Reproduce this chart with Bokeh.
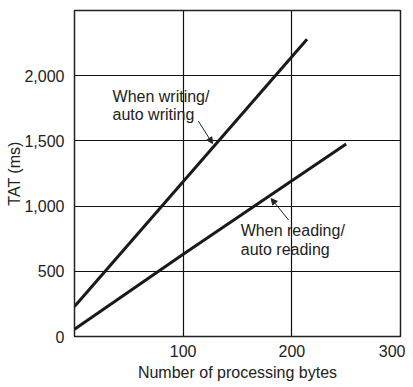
from bokeh.plotting import figure
from bokeh.models import FixedTicker, NumeralTickFormatter, Arrow, NormalHead, Range1d
from bokeh.core.properties import value
from bokeh.embed import file_html
from bokeh.resources import INLINE

# Data
write_bytes = [0, 214]
write_tat = [230, 2280]
read_bytes = [0, 100, 250]
read_tat = [55, 630, 1477]

x_ticks = [100, 200, 300]
y_ticks = [0, 500, 1000, 1500, 2000]

write_label = ["When writing/", "auto writing"]
write_label_x = [35, 35]
write_label_y = [1840, 1705]
read_label = ["When reading/", "auto reading"]
read_label_x = [153, 153]
read_label_y = [811, 667]

FONT = "Liberation Sans"
TXT = "#222222"
FS = "16px"

p = figure(output_backend="svg", toolbar_location=None,
           x_range=Range1d(0, 300), y_range=Range1d(0, 2500),
           min_border_left=74, min_border_right=5, min_border_top=10, min_border_bottom=43)
p.frame_width = 326
p.frame_height = 326

p.line(write_bytes, write_tat, line_color="#1a1a1a", line_width=3)
p.line(read_bytes, read_tat, line_color="#1a1a1a", line_width=3)

p.text(write_label_x, write_label_y, text=write_label, text_font=value(FONT),
       text_font_size=FS, text_color=TXT, text_baseline="middle", text_align="left")
p.text(read_label_x, read_label_y, text=read_label, text_font=value(FONT),
       text_font_size=FS, text_color=TXT, text_baseline="middle", text_align="left")

p.add_layout(Arrow(end=NormalHead(size=6, fill_color="#222222", line_color="#222222"),
                   x_start=114, y_start=1652, x_end=127, y_end=1480,
                   line_color="#222222", line_width=1))
p.add_layout(Arrow(end=NormalHead(size=6, fill_color="#222222", line_color="#222222"),
                   x_start=197, y_start=894, x_end=181, y_end=1058,
                   line_color="#222222", line_width=1))

p.xaxis.ticker = FixedTicker(ticks=x_ticks)
p.yaxis.ticker = FixedTicker(ticks=y_ticks)
p.yaxis.formatter = NumeralTickFormatter(format="0,0")
p.xaxis.axis_label = "Number of processing bytes"
p.yaxis.axis_label = "TAT (ms)"

for ax in (p.xaxis, p.yaxis):
    ax.axis_label_text_font = FONT
    ax.axis_label_text_font_size = FS
    ax.axis_label_text_font_style = "normal"
    ax.axis_label_text_color = TXT
    ax.major_label_text_font = FONT
    ax.major_label_text_font_size = FS
    ax.major_label_text_color = TXT
    ax.major_tick_line_color = None
    ax.minor_tick_line_color = None
    ax.axis_line_color = None

p.xaxis.major_label_standoff = 2
p.xaxis.axis_label_standoff = 4
p.yaxis.major_label_standoff = 4
p.yaxis.axis_label_standoff = -2

p.xgrid.ticker = FixedTicker(ticks=[100, 200])
p.ygrid.ticker = FixedTicker(ticks=[500, 1000, 1500, 2000])
p.grid.grid_line_color = "#111111"
p.grid.grid_line_alpha = 1.0
p.grid.grid_line_width = 1.2

p.outline_line_color = "#222222"
p.outline_line_width = 1.5
p.outline_line_alpha = 1.0
p.background_fill_color = "white"
p.border_fill_color = "white"

open("out.html", "w").write(file_html(p, INLINE))
